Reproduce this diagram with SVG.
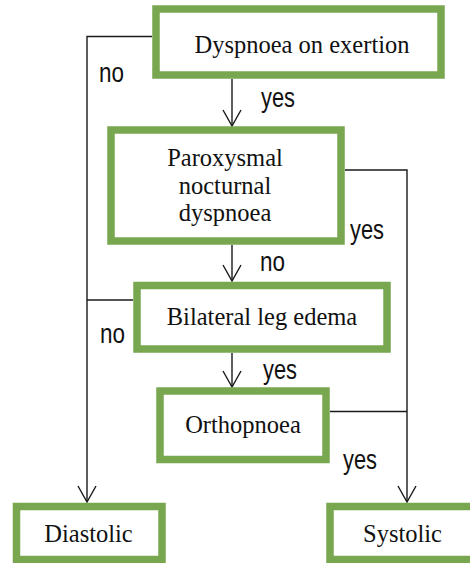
<svg xmlns="http://www.w3.org/2000/svg" width="470" height="563" viewBox="0 0 470 563">
<style>
.box{fill:#fff;stroke:#78A74F;stroke-width:7.5}
.t{font-family:"Liberation Serif","Times New Roman",serif;font-size:24.5px;fill:#111;text-anchor:middle}
.l{font-family:"Liberation Sans",Arial,sans-serif;font-size:27px;fill:#111}
.c{fill:none;stroke:#1a1a1a;stroke-width:1.4}
</style>
<defs>
<marker id="ah" viewBox="0 0 18 20" markerWidth="18" markerHeight="20" refX="17" refY="10" orient="auto" markerUnits="userSpaceOnUse">
<path d="M1,1 L17,10 L1,19" fill="none" stroke="#1a1a1a" stroke-width="1.4"/>
</marker>
</defs>
<rect width="470" height="563" fill="#fff"/>
<g id="connectors">
<path class="c" d="M152,36.5 H87 V502" marker-end="url(#ah)"/>
<path class="c" d="M133,300 H87"/>
<path class="c" d="M345,170 H407 V502" marker-end="url(#ah)"/>
<path class="c" d="M330,411.5 H407"/>
<path class="c" d="M232,79 V126" marker-end="url(#ah)"/>
<path class="c" d="M232,245 V281" marker-end="url(#ah)"/>
<path class="c" d="M232,353 V387" marker-end="url(#ah)"/>
</g>
<g id="labels">
<text class="l" x="99" y="82" textLength="25" lengthAdjust="spacingAndGlyphs">no</text>
<text class="l" x="261" y="107" textLength="34" lengthAdjust="spacingAndGlyphs">yes</text>
<text class="l" x="350" y="239" textLength="34" lengthAdjust="spacingAndGlyphs">yes</text>
<text class="l" x="260" y="271" textLength="25" lengthAdjust="spacingAndGlyphs">no</text>
<text class="l" x="100" y="343" textLength="25" lengthAdjust="spacingAndGlyphs">no</text>
<text class="l" x="263" y="379" textLength="34" lengthAdjust="spacingAndGlyphs">yes</text>
<text class="l" x="343" y="469" textLength="34" lengthAdjust="spacingAndGlyphs">yes</text>
</g>
<g id="n1"><rect class="box" x="156" y="9" width="285" height="66"/><text class="t" x="302" y="53">Dyspnoea on exertion</text></g>
<g id="n2"><rect class="box" x="111" y="130" width="230" height="111"/><text class="t" x="225" y="166">Paroxysmal</text><text class="t" x="225" y="193.5">nocturnal</text><text class="t" x="225" y="221">dyspnoea</text></g>
<g id="n3"><rect class="box" x="137" y="285.5" width="250" height="63.5"/><text class="t" x="262" y="325">Bilateral leg edema</text></g>
<g id="n4"><rect class="box" x="160" y="391" width="166" height="68.5"/><text class="t" x="243" y="433">Orthopnoea</text></g>
<g id="n5"><rect class="box" x="16.5" y="506.5" width="145.5" height="53"/><text class="t" x="88.5" y="542">Diastolic</text></g>
<g id="n6"><rect class="box" x="330" y="506.5" width="160" height="53"/><text class="t" x="402.5" y="542">Systolic</text></g>
</svg>
